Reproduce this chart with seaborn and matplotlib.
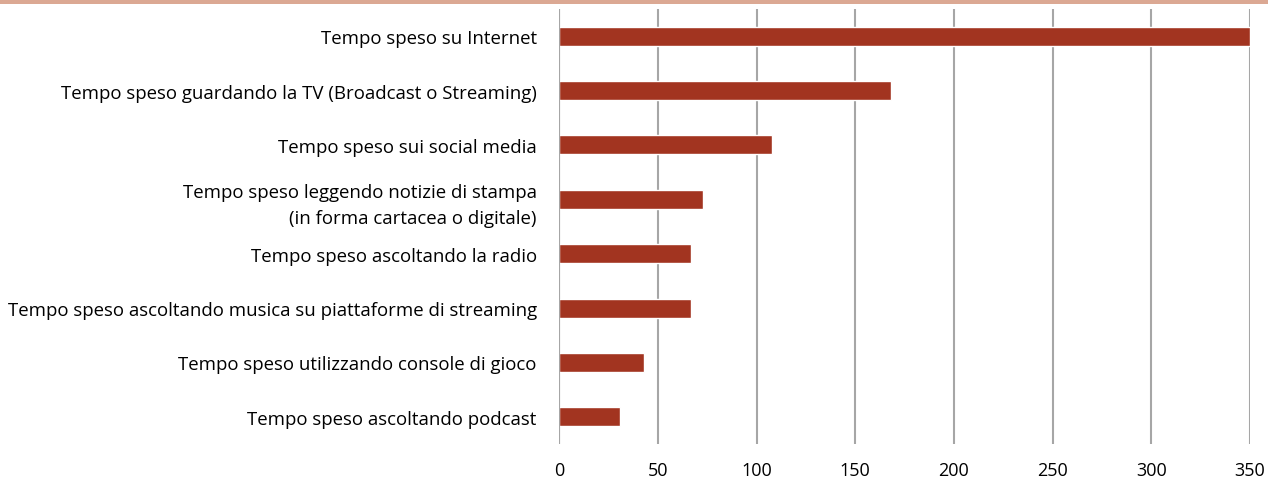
import matplotlib
matplotlib.use("Agg")
import matplotlib.pyplot as plt
import seaborn as sns
import pandas as pd
from matplotlib.patches import Rectangle

categories = [
    "Tempo speso su Internet",
    "Tempo speso guardando la TV (Broadcast o Streaming)",
    "Tempo speso sui social media",
    "Tempo speso leggendo notizie di stampa\n(in forma cartacea o digitale)",
    "Tempo speso ascoltando la radio",
    "Tempo speso ascoltando musica su piattaforme di streaming",
    "Tempo speso utilizzando console di gioco",
    "Tempo speso ascoltando podcast",
]
values = [350, 168, 108, 73, 67, 67, 43, 31]
x_ticks = [0, 50, 100, 150, 200, 250, 300, 350]

df = pd.DataFrame({"categoria": categories, "minuti": values})

sns.set_theme(style="white")
plt.rcParams["font.family"] = ["Open Sans", "DejaVu Sans"]

fig = plt.figure(figsize=(12.68, 4.89), dpi=100)
ax = fig.add_axes([0.4409, 0.0900, 0.5450, 0.8896])

# thin coloured band along the top edge
fig.patches.append(Rectangle((0, 1 - 5 / 489), 1, 5 / 489, transform=fig.transFigure,
                             facecolor="#DBA893", edgecolor="none", zorder=0))

sns.barplot(data=df, x="minuti", y="categoria", orient="h", color="#A23420",
            width=0.35, saturation=1, ax=ax, zorder=3)

ax.set_xlim(0, 350)
ax.set_ylim(7.5, -0.5)
ax.set_xticks(x_ticks)
ax.set_xticklabels([str(t) for t in x_ticks])
ax.xaxis.grid(True, color="#A6A6A6", linewidth=1.5)
ax.yaxis.grid(False)
ax.set_axisbelow(True)
# zero line stays visible at the left edge of the bars
ax.axvline(0, color="#A6A6A6", linewidth=1.5, zorder=4)
for s in ax.spines.values():
    s.set_visible(False)
ax.set_xlabel("")
ax.set_ylabel("")
ax.tick_params(axis="x", length=0, pad=12, labelsize=13, labelcolor="#000000")
ax.tick_params(axis="y", length=0, pad=16, labelsize=13.4, labelcolor="#000000")
for lbl in ax.get_yticklabels():
    lbl.set_multialignment("right")
    lbl.set_linespacing(1.55)

fig.savefig("out.png", dpi=100, facecolor="white")
